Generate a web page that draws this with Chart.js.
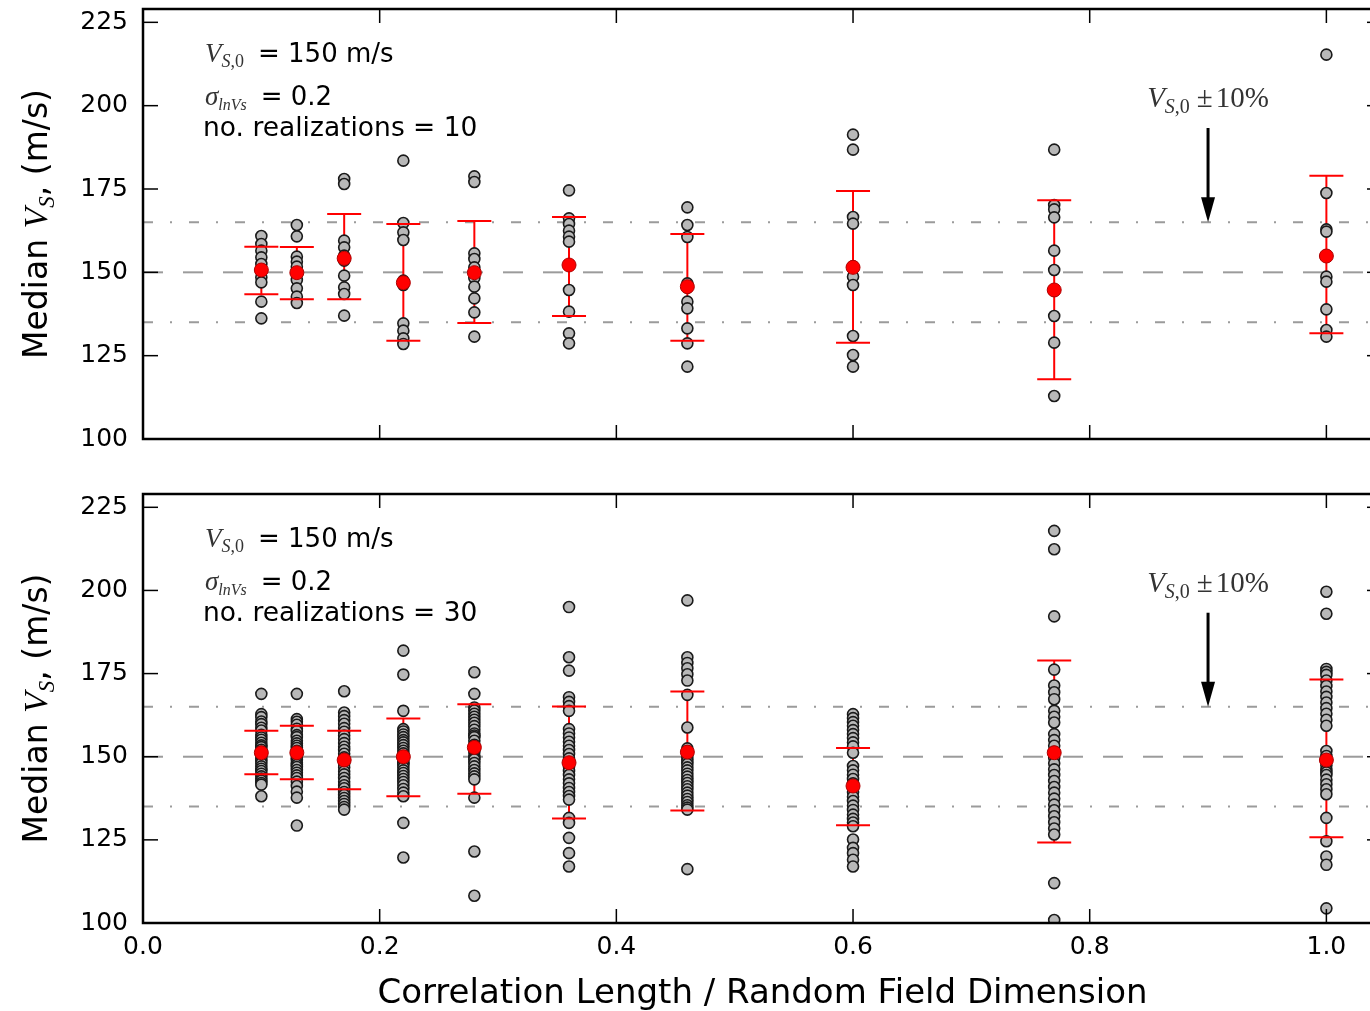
<!DOCTYPE html>
<html>
<head>
<meta charset="utf-8">
<title>Median Vs vs correlation length</title>
<script src="https://cdn.jsdelivr.net/npm/chart.js@4.4.1/dist/chart.umd.min.js"></script>
<style>
  html, body { margin: 0; padding: 0; background: #fff; overflow: hidden; }
  canvas { position: absolute; left: 0; }
  #top { top: 0; }
  #bottom { top: 480px; }
</style>
</head>
<body>
<canvas id="top" width="1390" height="450"></canvas>
<canvas id="bottom" width="1390" height="531"></canvas>
<script>
// correlation length / field dimension for each column of realizations
const xPositions = [0.1, 0.13, 0.17, 0.22, 0.28, 0.36, 0.46, 0.6, 0.77, 1.0];
const xTicks = [0, 0.2, 0.4, 0.6, 0.8, 1.0];
const yTicks = [100, 125, 150, 175, 200, 225];
const targetVs = 150;
const bandLow = 135;
const bandHigh = 165;

// 10 realizations per correlation length
const topRuns = [
  [160.9, 158.5, 156.5, 154.5, 152.5, 150.5, 148.5, 147.0, 141.2, 136.2],
  [164.2, 160.8, 154.7, 153.2, 151.7, 149.5, 147.7, 145.2, 142.7, 140.8],
  [178.0, 176.5, 159.5, 157.5, 155.0, 153.5, 149.0, 145.5, 143.5, 137.0],
  [183.5, 164.8, 162.0, 159.7, 147.5, 146.2, 134.7, 132.5, 130.2, 128.5],
  [178.8, 177.1, 155.7, 154.0, 151.5, 148.3, 145.7, 142.2, 138.0, 130.7],
  [174.6, 166.2, 164.5, 162.5, 160.7, 159.2, 144.7, 138.2, 131.7, 128.7],
  [169.5, 164.2, 160.6, 146.7, 145.4, 141.2, 139.2, 133.2, 128.7, 121.7],
  [191.3, 186.8, 166.6, 164.6, 151.8, 148.7, 146.2, 130.9, 125.2, 121.7],
  [186.8, 170.2, 168.9, 166.5, 156.5, 150.7, 144.5, 136.9, 128.9, 112.9],
  [215.3, 173.8, 162.9, 162.2, 155.0, 148.7, 147.2, 138.9, 132.7, 130.7]
];
const topMean  = [150.7, 149.9, 154.2, 146.9, 149.9, 152.2, 145.7, 151.5, 144.7, 154.9];
const topUpper = [157.7, 157.6, 167.5, 164.5, 165.4, 166.6, 161.5, 174.4, 171.6, 179.0];
const topLower = [143.4, 141.9, 141.9, 129.5, 134.8, 136.9, 129.5, 128.9, 117.9, 131.7];

// 30 realizations per correlation length
const bottomRuns = [
  [168.9, 162.8, 161.9, 160.6, 159.8, 158.7, 157.9, 156.6, 155.8, 155.1, 154.2, 153.4, 152.9, 152.1, 151.5,
   150.9, 150.2, 149.4, 148.8, 148.0, 147.1, 146.4, 145.7, 144.9, 144.1, 143.4, 142.8, 142.1, 141.6, 138.1],
  [168.9, 161.3, 160.5, 159.6, 158.4, 157.7, 156.5, 155.9, 154.8, 154.0, 153.3, 152.6, 151.8, 151.2, 150.9,
   150.5, 149.7, 149.0, 148.2, 147.5, 146.9, 146.0, 145.2, 144.4, 143.6, 142.5, 141.2, 139.5, 137.7, 129.3],
  [169.7, 163.3, 162.2, 161.0, 159.9, 158.6, 157.5, 156.4, 155.3, 154.1, 153.0, 152.0, 150.9, 149.8, 148.7,
   147.9, 146.8, 145.6, 144.7, 143.6, 142.5, 141.4, 140.5, 139.4, 138.5, 137.6, 136.7, 135.8, 134.9, 134.1],
  [181.9, 174.7, 163.8, 158.3, 157.6, 156.7, 155.9, 155.0, 154.3, 153.5, 152.6, 151.8, 151.0, 150.2, 149.4,
   148.5, 148.0, 147.7, 146.8, 145.9, 145.1, 144.2, 143.3, 142.4, 141.4, 140.3, 139.2, 138.1, 130.1, 119.7],
  [175.4, 168.9, 164.8, 163.9, 162.9, 162.0, 161.1, 160.2, 159.2, 158.1, 157.0, 156.4, 155.9, 154.8, 153.6,
   153.1, 152.5, 151.4, 150.3, 149.7, 149.2, 148.1, 147.1, 146.0, 145.0, 144.1, 143.2, 137.7, 121.5, 108.2],
  [195.0, 179.9, 175.9, 167.9, 166.5, 165.2, 163.8, 158.3, 157.0, 155.8, 154.5, 153.3, 152.0, 150.8, 149.5,
   148.3, 147.0, 145.7, 144.5, 143.2, 142.0, 140.6, 139.4, 138.2, 137.1, 131.6, 130.1, 125.6, 121.0, 117.0],
  [197.0, 179.9, 178.2, 176.6, 174.8, 172.9, 168.6, 158.8, 152.5, 151.6, 150.6, 149.7, 148.7, 147.8, 146.8,
   145.9, 144.9, 144.0, 143.0, 142.1, 141.1, 140.2, 139.2, 138.3, 137.3, 136.4, 135.4, 134.7, 134.1, 116.2],
  [162.8, 161.6, 160.4, 159.3, 158.0, 156.8, 155.6, 154.3, 153.1, 151.2, 147.2, 145.9, 144.6, 143.3, 142.0,
   140.6, 139.3, 138.0, 136.7, 135.3, 134.0, 132.6, 131.3, 130.2, 129.1, 125.1, 122.6, 121.0, 119.0, 117.0],
  [217.9, 212.4, 192.2, 176.2, 171.4, 169.4, 167.3, 163.8, 162.0, 160.3, 156.8, 155.0, 153.3, 151.5, 149.7,
   148.0, 146.2, 144.5, 142.7, 140.9, 139.2, 137.4, 135.6, 133.9, 132.1, 130.3, 128.4, 126.6, 112.0, 100.9],
  [199.6, 193.0, 176.4, 175.5, 174.6, 172.9, 171.3, 169.6, 168.0, 166.3, 164.6, 162.9, 161.1, 159.3, 151.7,
   150.2, 148.8, 147.4, 146.0, 145.3, 144.5, 143.1, 141.7, 140.2, 138.7, 131.6, 124.6, 120.0, 117.5, 104.4]
];
const bottomMean  = [151.2, 151.2, 149.0, 150.0, 152.8, 148.2, 151.4, 141.2, 151.2, 149.0];
const bottomUpper = [157.8, 159.3, 157.8, 161.5, 165.8, 165.1, 169.6, 152.6, 178.9, 173.2];
const bottomLower = [144.7, 143.2, 140.2, 138.1, 138.9, 131.4, 133.8, 129.4, 124.2, 125.8];

const xTitle = 'Correlation Length / Random Field Dimension';
const tickFont = { family: 'DejaVu Sans', size: 25 };
const SANS = '"DejaVu Sans"';
const SERIF = '"Liberation Serif"';
const MATH = '#333';

// draws a row of mixed-font text pieces (for the math bits)
function drawRuns(ctx, runs, x, y, align) {
  let total = 0;
  runs.forEach(r => { ctx.font = r.font; total += (r.gap || 0) + ctx.measureText(r.text).width; });
  let cx = align === 'center' ? x - total / 2 : x;
  runs.forEach(r => {
    ctx.font = r.font;
    cx += r.gap || 0;
    ctx.fillStyle = r.color || '#000';
    ctx.fillText(r.text, cx, y + (r.dy || 0));
    cx += ctx.measureText(r.text).width;
  });
}

function hline(ctx, x1, x2, y) {
  ctx.beginPath(); ctx.moveTo(x1, y); ctx.lineTo(x2, y); ctx.stroke();
}

const panelDecor = {
  id: 'panelDecor',
  beforeDatasetsDraw(chart, args, opts) {
    const { ctx, chartArea: a, scales: { x, y } } = chart;
    ctx.save();
    ctx.beginPath();
    ctx.rect(a.left, a.top, a.right - a.left, a.bottom - a.top);
    ctx.clip();
    // target Vs and +/-10% band
    ctx.strokeStyle = '#9b9b9b';
    ctx.lineWidth = 2;
    ctx.setLineDash([20, 20]);
    hline(ctx, a.left, a.right, y.getPixelForValue(targetVs));
    ctx.setLineDash([10, 17, 2, 17]);
    hline(ctx, a.left, a.right, y.getPixelForValue(bandLow));
    hline(ctx, a.left, a.right, y.getPixelForValue(bandHigh));
    ctx.setLineDash([]);
    // error bar stems (under the realizations)
    ctx.strokeStyle = '#ff0000';
    ctx.lineWidth = 2;
    xPositions.forEach((xv, i) => {
      const px = x.getPixelForValue(xv);
      ctx.beginPath();
      ctx.moveTo(px, y.getPixelForValue(opts.lower[i]));
      ctx.lineTo(px, y.getPixelForValue(opts.upper[i]));
      ctx.stroke();
    });
    ctx.restore();
  },
  afterDatasetsDraw(chart, args, opts) {
    const { ctx, chartArea: a, scales: { x, y } } = chart;
    ctx.save();
    // error bar caps
    ctx.strokeStyle = '#ff0000';
    ctx.lineWidth = 2;
    xPositions.forEach((xv, i) => {
      const px = x.getPixelForValue(xv);
      hline(ctx, px - 17, px + 17, y.getPixelForValue(opts.lower[i]));
      hline(ctx, px - 17, px + 17, y.getPixelForValue(opts.upper[i]));
    });

    // frame with inward ticks
    ctx.strokeStyle = '#000';
    ctx.lineWidth = 1.5;
    yTicks.forEach(v => {
      const py = y.getPixelForValue(v);
      hline(ctx, a.left, a.left + 15, py);
      hline(ctx, a.right - 15, a.right, py);
    });
    xTicks.forEach(v => {
      const px = x.getPixelForValue(v);
      ctx.beginPath();
      ctx.moveTo(px, a.top); ctx.lineTo(px, a.top + 14);
      ctx.moveTo(px, a.bottom); ctx.lineTo(px, a.bottom - 14);
      ctx.stroke();
    });
    ctx.lineWidth = 2.5;
    ctx.strokeRect(a.left, a.top, a.right - a.left, a.bottom - a.top);

    // text box in the upper left
    ctx.textAlign = 'left';
    ctx.textBaseline = 'alphabetic';
    const tx = a.left + 62;
    drawRuns(ctx, [
      { text: 'V', font: 'italic 27px ' + SERIF, color: MATH },
      { text: 'S', font: 'italic 18px ' + SERIF, dy: 5, color: MATH },
      { text: ',0', font: '18px ' + SERIF, dy: 5, color: MATH },
      { text: '= 150 m/s', font: '26px ' + SANS, gap: 14 }
    ], tx, a.top + 53);
    drawRuns(ctx, [
      { text: 'σ', font: 'italic 27px ' + SERIF, color: MATH },
      { text: 'lnVs', font: 'italic 16px ' + SERIF, dy: 5, color: MATH },
      { text: '= 0.2', font: '26px ' + SANS, gap: 14 }
    ], tx, a.top + 96);
    drawRuns(ctx, [
      { text: 'no. realizations = ' + opts.count, font: '26.5px ' + SANS }
    ], tx - 2, a.top + 127);

    // Vs,0 +/- 10% callout with arrow down to the band
    const ax = x.getPixelForValue(0.9);
    drawRuns(ctx, [
      { text: 'V', font: 'italic 29px ' + SERIF, color: MATH },
      { text: 'S', font: 'italic 20px ' + SERIF, dy: 6, color: MATH },
      { text: ',0', font: '20px ' + SERIF, dy: 6, color: MATH },
      { text: '±', font: '29px ' + SERIF, gap: 7, color: MATH },
      { text: '10%', font: '29px ' + SERIF, gap: 3, color: MATH }
    ], ax, y.getPixelForValue(199.5), 'center');
    const tail = y.getPixelForValue(193.3);
    const tip = y.getPixelForValue(165);
    ctx.strokeStyle = '#000';
    ctx.fillStyle = '#000';
    ctx.lineWidth = 3;
    ctx.beginPath(); ctx.moveTo(ax, tail); ctx.lineTo(ax, tip - 20); ctx.stroke();
    ctx.beginPath();
    ctx.moveTo(ax - 7, tip - 25);
    ctx.lineTo(ax + 7, tip - 25);
    ctx.lineTo(ax, tip);
    ctx.closePath();
    ctx.fill();

    // y axis title
    ctx.translate(47, (a.top + a.bottom) / 2);
    ctx.rotate(-Math.PI / 2);
    drawRuns(ctx, [
      { text: 'Median ', font: '33px ' + SANS },
      { text: 'V', font: 'italic 34px ' + SERIF },
      { text: 'S', font: 'italic 23px ' + SERIF, dy: 7 },
      { text: ', (m/s)', font: '33px ' + SANS }
    ], 0, 0, 'center');
    ctx.restore();
  }
};

function makePanel(canvasId, runs, means, lower, upper, count, isBottom) {
  const grayPts = [];
  runs.forEach((col, i) => col.forEach(v => grayPts.push({ x: xPositions[i], y: v })));
  const meanPts = means.map((v, i) => ({ x: xPositions[i], y: v }));

  return new Chart(document.getElementById(canvasId), {
    type: 'scatter',
    data: {
      datasets: [
        { label: 'mean', data: meanPts, order: 0, pointRadius: 7,
          backgroundColor: '#ff0000', borderColor: '#b00000', borderWidth: 1 },
        { label: 'realizations', data: grayPts, order: 1, pointRadius: 5.5,
          backgroundColor: '#b8b8b8', borderColor: '#1a1a1a', borderWidth: 1.6 }
      ]
    },
    options: {
      responsive: false,
      animation: false,
      devicePixelRatio: 1,
      layout: { padding: { top: isBottom ? 14 : 9, right: 5, bottom: 0, left: 0 } },
      plugins: {
        legend: { display: false },
        tooltip: { enabled: false },
        panelDecor: { lower: lower, upper: upper, count: count }
      },
      scales: {
        x: {
          type: 'linear',
          min: 0,
          max: 1.047,
          grid: { display: false, drawTicks: false },
          border: { display: false },
          afterBuildTicks: s => { s.ticks = xTicks.map(v => ({ value: v })); },
          ticks: {
            display: isBottom,
            padding: 9,
            font: tickFont,
            color: '#000',
            maxRotation: 0,
            autoSkip: false,
            callback: v => Number(v).toFixed(1)
          },
          title: {
            display: isBottom,
            text: xTitle,
            color: '#000',
            font: { family: 'DejaVu Sans', size: 34, lineHeight: 1.1 },
            padding: { top: 0, bottom: -2 }
          },
          afterFit: s => {
            s.height = isBottom ? 88 : 11;
            s.paddingLeft = 0;
            s.paddingRight = 0;
          }
        },
        y: {
          min: 100,
          max: 229,
          grid: { display: false, drawTicks: false },
          border: { display: false },
          afterBuildTicks: s => { s.ticks = yTicks.map(v => ({ value: v })); },
          ticks: {
            padding: 15,
            font: tickFont,
            color: '#000',
            callback: v => String(v)
          },
          afterFit: s => {
            s.width = 143;
            s.paddingTop = 0;
            s.paddingBottom = 0;
          }
        }
      }
    },
    plugins: [panelDecor]
  });
}

makePanel('top', topRuns, topMean, topLower, topUpper, 10, false);
makePanel('bottom', bottomRuns, bottomMean, bottomLower, bottomUpper, 30, true);
</script>
</body>
</html>
